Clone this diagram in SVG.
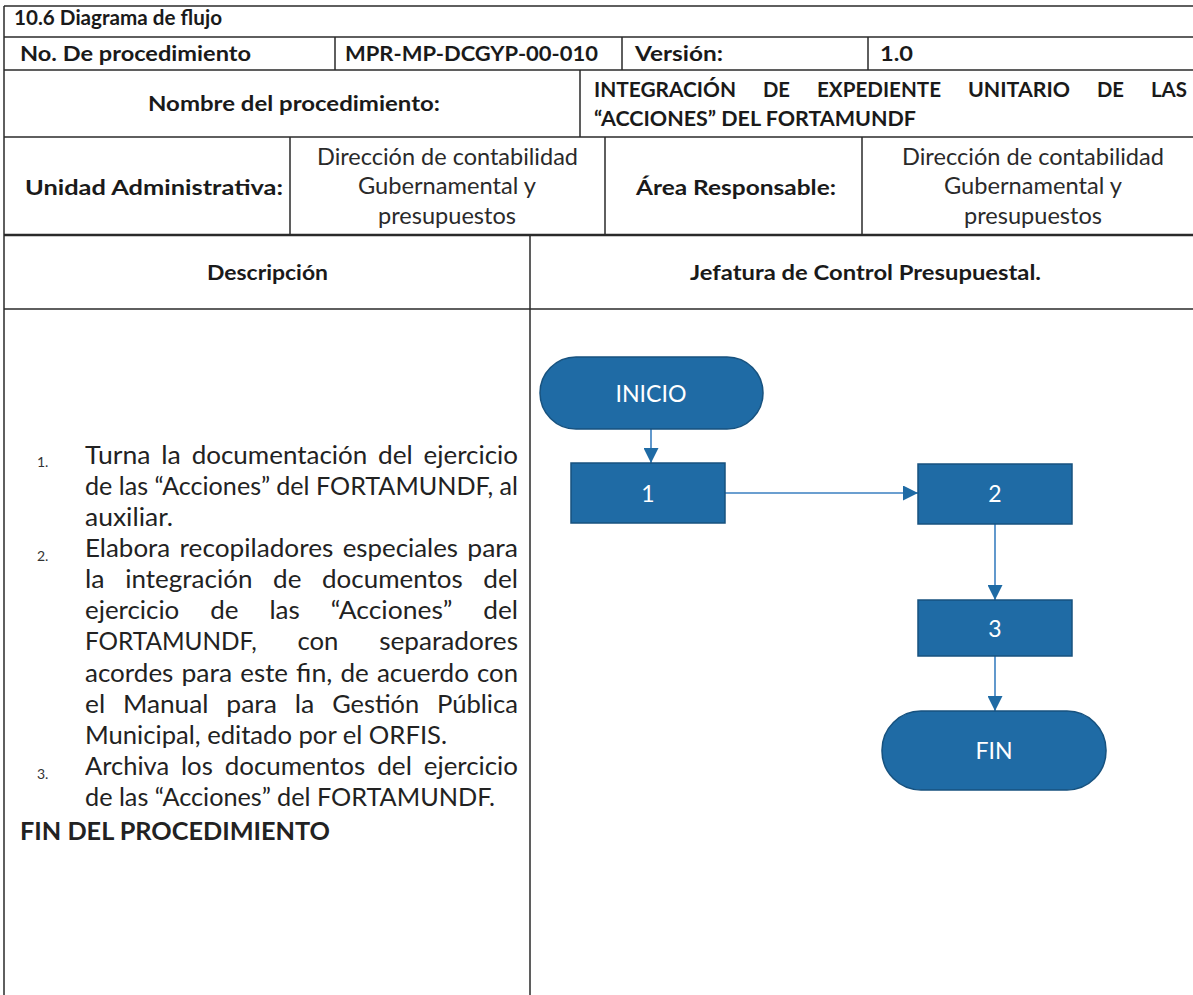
<svg xmlns="http://www.w3.org/2000/svg" width="1193" height="995" viewBox="0 0 1193 995">
<style>
.ln{stroke:#2a2a2a;stroke-width:1.5;fill:none}
.hb{font-family:Lato,"Liberation Sans",sans-serif;font-weight:bold;font-size:21.5px;fill:#1a1a1a}
.hr{font-family:Lato,"Liberation Sans",sans-serif;font-size:22.5px;fill:#2a2a2a}
.bd{font-family:Lato,"Liberation Sans",sans-serif;font-size:24.5px;fill:#222}
.num{font-family:Lato,"Liberation Sans",sans-serif;font-size:14px;fill:#333}
.shape{fill:#1f6ba5;stroke:#17527f;stroke-width:1.5}
.lbl{font-family:Lato,"Liberation Sans",sans-serif;font-size:23px;fill:#fff;text-anchor:middle}
.conn{stroke:#3a7fc0;stroke-width:1.6;fill:none}
</style>
<defs>
<marker id="ah" viewBox="0 0 10 10" refX="10" refY="5" markerWidth="16" markerHeight="15" markerUnits="userSpaceOnUse" orient="auto">
<path d="M0,0 L10,5 L0,10 Z" fill="#1f6ba5"/>
</marker>
</defs>
<rect width="1193" height="995" fill="#fff"/>
<g id="table">
<line class="ln" x1="4" y1="6" x2="1193" y2="6"/>
<line class="ln" x1="4" y1="37" x2="1193" y2="37"/>
<line class="ln" x1="4" y1="70" x2="1193" y2="70"/>
<line class="ln" x1="4" y1="137" x2="1193" y2="137"/>
<line class="ln" x1="4" y1="235" x2="1193" y2="235" style="stroke-width:2.5"/>
<line class="ln" x1="4" y1="309" x2="1193" y2="309"/>
<line class="ln" x1="4" y1="6" x2="4" y2="995"/>
<line class="ln" x1="335" y1="37" x2="335" y2="70"/>
<line class="ln" x1="622" y1="37" x2="622" y2="70"/>
<line class="ln" x1="868" y1="37" x2="868" y2="70"/>
<line class="ln" x1="580" y1="70" x2="580" y2="137"/>
<line class="ln" x1="290" y1="137" x2="290" y2="235"/>
<line class="ln" x1="605" y1="137" x2="605" y2="235"/>
<line class="ln" x1="862" y1="137" x2="862" y2="235"/>
<line class="ln" x1="530" y1="235" x2="530" y2="995"/>
</g>
<g id="header-text">
<text class="hb" x="14" y="25" textLength="208" lengthAdjust="spacingAndGlyphs">10.6 Diagrama de flujo</text>
<text class="hb" x="20" y="61" textLength="231" lengthAdjust="spacingAndGlyphs">No. De procedimiento</text>
<text class="hb" x="345" y="61" textLength="253" lengthAdjust="spacingAndGlyphs">MPR-MP-DCGYP-00-010</text>
<text class="hb" x="635" y="61" textLength="88" lengthAdjust="spacingAndGlyphs">Versión:</text>
<text class="hb" x="880" y="61" textLength="33" lengthAdjust="spacingAndGlyphs">1.0</text>
<text class="hb" x="148" y="111" textLength="292" lengthAdjust="spacingAndGlyphs">Nombre del procedimiento:</text>
<text class="hb" x="594" y="97" textLength="142" lengthAdjust="spacingAndGlyphs">INTEGRACIÓN</text>
<text class="hb" x="763" y="97" textLength="27" lengthAdjust="spacingAndGlyphs">DE</text>
<text class="hb" x="817" y="97" textLength="124" lengthAdjust="spacingAndGlyphs">EXPEDIENTE</text>
<text class="hb" x="968" y="97" textLength="102" lengthAdjust="spacingAndGlyphs">UNITARIO</text>
<text class="hb" x="1097" y="97" textLength="27" lengthAdjust="spacingAndGlyphs">DE</text>
<text class="hb" x="1151" y="97" textLength="36" lengthAdjust="spacingAndGlyphs">LAS</text>
<text class="hb" x="594" y="126" textLength="322" lengthAdjust="spacingAndGlyphs">“ACCIONES” DEL FORTAMUNDF</text>
<text class="hb" x="25" y="195" textLength="258" lengthAdjust="spacingAndGlyphs">Unidad Administrativa:</text>
<text class="hr" x="317" y="165" textLength="261" lengthAdjust="spacingAndGlyphs">Dirección de contabilidad</text>
<text class="hr" x="358" y="194" textLength="178" lengthAdjust="spacingAndGlyphs">Gubernamental y</text>
<text class="hr" x="378" y="224" textLength="138" lengthAdjust="spacingAndGlyphs">presupuestos</text>
<text class="hb" x="636" y="195" textLength="200" lengthAdjust="spacingAndGlyphs">Área Responsable:</text>
<text class="hr" x="902" y="165" textLength="262" lengthAdjust="spacingAndGlyphs">Dirección de contabilidad</text>
<text class="hr" x="944" y="194" textLength="178" lengthAdjust="spacingAndGlyphs">Gubernamental y</text>
<text class="hr" x="964" y="224" textLength="138" lengthAdjust="spacingAndGlyphs">presupuestos</text>
<text class="hb" x="207" y="280" textLength="121" lengthAdjust="spacingAndGlyphs">Descripción</text>
<text class="hb" x="690" y="280" textLength="351" lengthAdjust="spacingAndGlyphs">Jefatura de Control Presupuestal.</text>
</g>
<g id="description">
<text class="num" x="37" y="467">1.</text>
<text class="num" x="37" y="561">2.</text>
<text class="num" x="37" y="779">3.</text>
<text class="bd" x="85" y="464" textLength="65.5" lengthAdjust="spacingAndGlyphs">Turna</text>
<text class="bd" x="161.3" y="464" textLength="19.6" lengthAdjust="spacingAndGlyphs">la</text>
<text class="bd" x="191.7" y="464" textLength="175.6" lengthAdjust="spacingAndGlyphs">documentación</text>
<text class="bd" x="378.1" y="464" textLength="34.7" lengthAdjust="spacingAndGlyphs">del</text>
<text class="bd" x="423.6" y="464" textLength="94.4" lengthAdjust="spacingAndGlyphs">ejercicio</text>
<text class="bd" x="85" y="495" textLength="433" lengthAdjust="spacingAndGlyphs">de las “Acciones” del FORTAMUNDF, al</text>
<text class="bd" x="85" y="526" textLength="88" lengthAdjust="spacingAndGlyphs">auxiliar.</text>
<text class="bd" x="85" y="557" textLength="85.2" lengthAdjust="spacingAndGlyphs">Elabora</text>
<text class="bd" x="179.6" y="557" textLength="153.7" lengthAdjust="spacingAndGlyphs">recopiladores</text>
<text class="bd" x="342.7" y="557" textLength="115.3" lengthAdjust="spacingAndGlyphs">especiales</text>
<text class="bd" x="467.3" y="557" textLength="50.7" lengthAdjust="spacingAndGlyphs">para</text>
<text class="bd" x="85" y="588" textLength="19.6" lengthAdjust="spacingAndGlyphs">la</text>
<text class="bd" x="125.3" y="588" textLength="127.1" lengthAdjust="spacingAndGlyphs">integración</text>
<text class="bd" x="273.1" y="588" textLength="28.3" lengthAdjust="spacingAndGlyphs">de</text>
<text class="bd" x="322.1" y="588" textLength="140.6" lengthAdjust="spacingAndGlyphs">documentos</text>
<text class="bd" x="483.3" y="588" textLength="34.7" lengthAdjust="spacingAndGlyphs">del</text>
<text class="bd" x="85" y="619" textLength="94.3" lengthAdjust="spacingAndGlyphs">ejercicio</text>
<text class="bd" x="210.2" y="619" textLength="28.3" lengthAdjust="spacingAndGlyphs">de</text>
<text class="bd" x="269.4" y="619" textLength="30.4" lengthAdjust="spacingAndGlyphs">las</text>
<text class="bd" x="330.7" y="619" textLength="121.7" lengthAdjust="spacingAndGlyphs">“Acciones”</text>
<text class="bd" x="483.3" y="619" textLength="34.7" lengthAdjust="spacingAndGlyphs">del</text>
<text class="bd" x="85" y="650" textLength="171.7" lengthAdjust="spacingAndGlyphs">FORTAMUNDF,</text>
<text class="bd" x="297.5" y="650" textLength="40.9" lengthAdjust="spacingAndGlyphs">con</text>
<text class="bd" x="379.2" y="650" textLength="138.8" lengthAdjust="spacingAndGlyphs">separadores</text>
<text class="bd" x="85" y="682" textLength="88.4" lengthAdjust="spacingAndGlyphs">acordes</text>
<text class="bd" x="181.5" y="682" textLength="50.7" lengthAdjust="spacingAndGlyphs">para</text>
<text class="bd" x="240.3" y="682" textLength="47.7" lengthAdjust="spacingAndGlyphs">este</text>
<text class="bd" x="296.1" y="682" textLength="36.3" lengthAdjust="spacingAndGlyphs">fin,</text>
<text class="bd" x="340.5" y="682" textLength="28.3" lengthAdjust="spacingAndGlyphs">de</text>
<text class="bd" x="376.9" y="682" textLength="92.1" lengthAdjust="spacingAndGlyphs">acuerdo</text>
<text class="bd" x="477.1" y="682" textLength="40.9" lengthAdjust="spacingAndGlyphs">con</text>
<text class="bd" x="85" y="713" textLength="20.1" lengthAdjust="spacingAndGlyphs">el</text>
<text class="bd" x="122.9" y="713" textLength="85.6" lengthAdjust="spacingAndGlyphs">Manual</text>
<text class="bd" x="226.3" y="713" textLength="50.7" lengthAdjust="spacingAndGlyphs">para</text>
<text class="bd" x="294.8" y="713" textLength="19.6" lengthAdjust="spacingAndGlyphs">la</text>
<text class="bd" x="332.2" y="713" textLength="86.9" lengthAdjust="spacingAndGlyphs">Gestión</text>
<text class="bd" x="436.9" y="713" textLength="81.1" lengthAdjust="spacingAndGlyphs">Pública</text>
<text class="bd" x="85" y="744" textLength="362" lengthAdjust="spacingAndGlyphs">Municipal, editado por el ORFIS.</text>
<text class="bd" x="85" y="775" textLength="84.1" lengthAdjust="spacingAndGlyphs">Archiva</text>
<text class="bd" x="181" y="775" textLength="31.8" lengthAdjust="spacingAndGlyphs">los</text>
<text class="bd" x="224.7" y="775" textLength="140.6" lengthAdjust="spacingAndGlyphs">documentos</text>
<text class="bd" x="377.2" y="775" textLength="34.7" lengthAdjust="spacingAndGlyphs">del</text>
<text class="bd" x="423.8" y="775" textLength="94.2" lengthAdjust="spacingAndGlyphs">ejercicio</text>
<text class="bd" x="85" y="806" textLength="410" lengthAdjust="spacingAndGlyphs">de las “Acciones” del FORTAMUNDF.</text>
<text class="bd" x="20" y="840" style="font-weight:bold" textLength="310" lengthAdjust="spacingAndGlyphs">FIN DEL PROCEDIMIENTO</text>
</g>
<g id="connectors">
<line class="conn" x1="651" y1="429" x2="651" y2="463" marker-end="url(#ah)"/>
<line class="conn" x1="725" y1="493" x2="918" y2="493" marker-end="url(#ah)"/>
<line class="conn" x1="995" y1="524" x2="995" y2="600" marker-end="url(#ah)"/>
<line class="conn" x1="995" y1="656" x2="995" y2="711" marker-end="url(#ah)"/>
</g>
<g id="node-inicio">
<rect class="shape" x="540" y="357" width="223" height="72" rx="36"/>
<text class="lbl" x="651" y="402" textLength="71" lengthAdjust="spacingAndGlyphs">INICIO</text>
</g>
<g id="node-1">
<rect class="shape" x="571" y="463" width="154" height="60"/>
<text class="lbl" x="648" y="502">1</text>
</g>
<g id="node-2">
<rect class="shape" x="918" y="464" width="154" height="60"/>
<text class="lbl" x="995" y="502">2</text>
</g>
<g id="node-3">
<rect class="shape" x="918" y="600" width="154" height="56"/>
<text class="lbl" x="995" y="637">3</text>
</g>
<g id="node-fin">
<rect class="shape" x="882" y="711" width="224" height="79" rx="39"/>
<text class="lbl" x="994" y="759" textLength="37" lengthAdjust="spacingAndGlyphs">FIN</text>
</g>
</svg>
